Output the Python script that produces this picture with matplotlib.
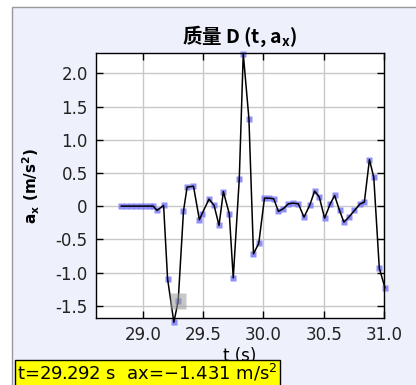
import matplotlib
matplotlib.use("Agg")
import matplotlib.pyplot as plt
from matplotlib.patches import Rectangle
from matplotlib.ticker import FuncFormatter

# time (s) and acceleration a_x (m/s^2)
t_vals = [28.82, 28.86, 28.90, 28.94, 28.98, 29.02, 29.06, 29.085,
          29.116, 29.171, 29.204, 29.256, 29.292, 29.336, 29.366, 29.419,
          29.468, 29.49, 29.548, 29.590, 29.631, 29.667, 29.716, 29.749,
          29.799, 29.832, 29.879, 29.917, 29.961, 30.008, 30.047, 30.085,
          30.124, 30.163, 30.207, 30.245, 30.289, 30.336, 30.383, 30.424,
          30.463, 30.507, 30.554, 30.590, 30.631, 30.667, 30.708, 30.755,
          30.802, 30.837, 30.879, 30.915, 30.961, 31.008]
ax_vals = [0.0, 0.0, 0.0, 0.0, 0.0, 0.0, 0.0, 0.0,
           -0.065, 0.01, -1.095, -1.749, -1.431, -0.075, 0.286, 0.30,
           -0.206, -0.115, 0.106, 0.01, -0.29, 0.22, -0.116, -1.08,
           0.41, 2.296, 1.317, -0.719, -0.558, 0.12, 0.12, 0.11,
           -0.08, -0.04, 0.035, 0.045, 0.035, -0.166, 0.01, 0.226,
           0.136, -0.181, 0.035, 0.16, -0.065, -0.241, -0.166, -0.065,
           0.035, 0.06, 0.70, 0.437, -0.935, -1.23]

sel_t = 29.292
sel_a = -1.431

x_ticks = [29.0, 29.5, 30.0, 30.5, 31.0]
y_ticks = [-1.5, -1.0, -0.5, 0.0, 0.5, 1.0, 1.5, 2.0]

W, H = 416, 385
fig = plt.figure(figsize=(W / 100, H / 100), dpi=100)
fig.patch.set_facecolor("white")
fig.patches.append(Rectangle((12 / W, -0.05), 1.0, 1.05 - 7 / H,
                             transform=fig.transFigure, facecolor="#eef0fb",
                             edgecolor="#999999", linewidth=1.0, zorder=-5))

ax = fig.add_axes([96 / W, 1 - 318 / H, 288 / W, 265 / H])
ax.set_zorder(1)
ax.set_facecolor("white")

ax.plot(t_vals, ax_vals, color="black", linewidth=1.1, zorder=3, clip_on=False)
ax.plot(t_vals, ax_vals, linestyle="none", marker="s", markersize=5,
        markerfacecolor="#7c7cf8", markeredgecolor="none", alpha=0.85,
        zorder=2, clip_on=False)
ax.plot([sel_t], [sel_a], linestyle="none", marker="s", markersize=11,
        markerfacecolor="#999999", markeredgecolor="none", alpha=0.55,
        zorder=4, clip_on=False)

ax.set_xlim(28.61, 31.0)
ax.set_ylim(-1.685, 2.306)
ax.set_xticks(x_ticks)
ax.set_yticks(y_ticks)
ax.yaxis.set_major_formatter(FuncFormatter(lambda v, p: "0" if abs(v) < 1e-9 else f"{v:.1f}"))
ax.grid(True, color="#c8c8c8", linewidth=1.0)
ax.set_axisbelow(True)
ax.tick_params(direction="in", length=5, width=1, top=True, right=True,
               labelsize=12, colors="black", labelcolor="#222222", pad=6)
for s in ax.spines.values():
    s.set_linewidth(1.0)

ax.set_title("质量 D (t, a$_\\mathregular{x}$)", fontsize=14, fontweight="bold",
             family=["Noto Sans CJK SC", "DejaVu Sans"], pad=7)
ax.set_ylabel("a$_\\mathregular{x}$ (m/s$^\\mathregular{2}$)", fontsize=11, fontweight="bold", labelpad=10)
ax.set_xlabel("t (s)", fontsize=12, labelpad=2)

fig.text(17 / W, 1 - 373 / H, "t=29.292 s  ax=\u22121.431 m/s$^\\mathregular{2}$",
         fontsize=13, va="center", ha="left", zorder=10,
         bbox=dict(boxstyle="square,pad=0.12", facecolor="#ffff00",
                   edgecolor="black", linewidth=1.0))

fig.savefig("out.png", dpi=100)
